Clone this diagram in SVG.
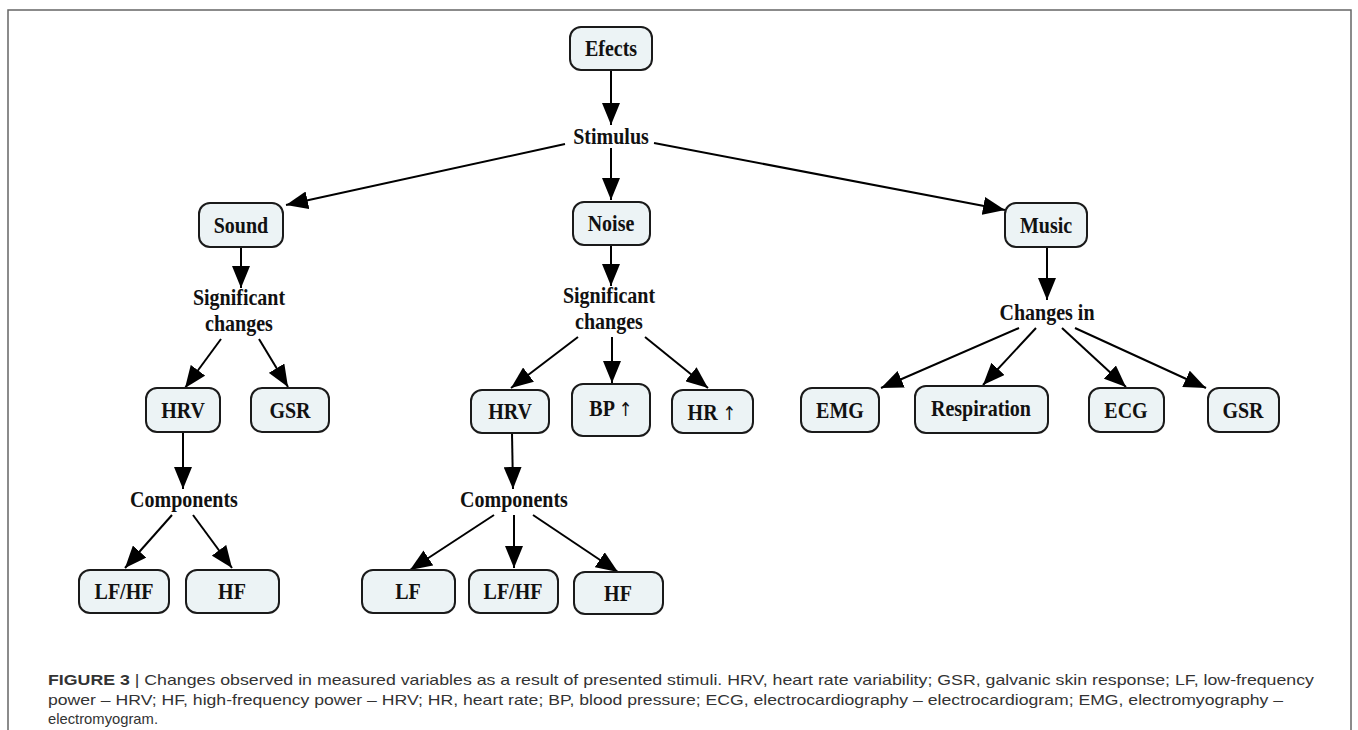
<svg xmlns="http://www.w3.org/2000/svg" width="1358" height="730" viewBox="0 0 1358 730">
<style>
.box{fill:#ecf3f5;stroke:#1a1a1a;stroke-width:2}
.t{font-family:"Liberation Serif","Times New Roman",serif;font-weight:bold;font-size:23px;fill:#111;text-anchor:middle}
.c{stroke:#000;stroke-width:2;fill:none;marker-end:url(#ah)}
.cap{font-family:"Liberation Sans",Arial,sans-serif;font-size:15px;fill:#333}
.ar{font-family:"DejaVu Sans",sans-serif;font-weight:normal;font-size:19px}
</style>
<defs>
<marker id="ah" markerUnits="userSpaceOnUse" markerWidth="22" markerHeight="18" refX="22" refY="9" orient="auto">
<path d="M0,0 L22,9 L0,18 z" fill="#000"/>
</marker>
</defs>
<rect width="1358" height="730" fill="#fff"/>
<path d="M8,730 V10 H1351 V730" fill="none" stroke="#666" stroke-width="1.5"/>

<g id="connectors">
<line class="c" x1="611" y1="70" x2="611" y2="125"/>
<line class="c" x1="611" y1="148" x2="611" y2="200"/>
<line class="c" x1="565" y1="144" x2="286" y2="205"/>
<line class="c" x1="654" y1="143" x2="1005" y2="210"/>
<line class="c" x1="241" y1="247" x2="241" y2="288"/>
<line class="c" x1="611" y1="245" x2="611" y2="286"/>
<line class="c" x1="1047" y1="247" x2="1047" y2="300"/>
<line class="c" x1="221" y1="339" x2="185" y2="388"/>
<line class="c" x1="259" y1="339" x2="288" y2="387"/>
<line class="c" x1="183" y1="432" x2="183" y2="489"/>
<line class="c" x1="172" y1="515" x2="125" y2="568"/>
<line class="c" x1="193" y1="515" x2="232" y2="568"/>
<line class="c" x1="578" y1="337" x2="511" y2="388"/>
<line class="c" x1="612" y1="337" x2="612" y2="383"/>
<line class="c" x1="645" y1="337" x2="708" y2="388"/>
<line class="c" x1="512" y1="433" x2="513" y2="489"/>
<line class="c" x1="494" y1="515" x2="410" y2="570"/>
<line class="c" x1="514" y1="515" x2="514" y2="568"/>
<line class="c" x1="533" y1="515" x2="618" y2="572"/>
<line class="c" x1="1019" y1="328" x2="881" y2="388"/>
<line class="c" x1="1036" y1="328" x2="983" y2="385"/>
<line class="c" x1="1062" y1="328" x2="1126" y2="387"/>
<line class="c" x1="1075" y1="328" x2="1206" y2="388"/>
</g>

<g id="efects"><rect class="box" x="570" y="27" width="82" height="43" rx="11"/><text class="t" transform="translate(611,56) scale(0.87,1)">Efects</text></g>
<g id="stimulus"><text class="t" transform="translate(611,144) scale(0.87,1)">Stimulus</text></g>
<g id="sound"><rect class="box" x="199" y="203" width="84" height="44" rx="11"/><text class="t" transform="translate(241,233) scale(0.87,1)">Sound</text></g>
<g id="noise"><rect class="box" x="573" y="202" width="77" height="43" rx="11"/><text class="t" transform="translate(611,231) scale(0.87,1)">Noise</text></g>
<g id="music"><rect class="box" x="1005" y="203" width="82" height="44" rx="11"/><text class="t" transform="translate(1046,233) scale(0.87,1)">Music</text></g>
<g id="sig1"><text class="t" transform="translate(239,305) scale(0.87,1)">Significant</text><text class="t" transform="translate(239,331) scale(0.87,1)">changes</text></g>
<g id="sig2"><text class="t" transform="translate(609,303) scale(0.87,1)">Significant</text><text class="t" transform="translate(609,329) scale(0.87,1)">changes</text></g>
<g id="changesin"><text class="t" transform="translate(1047,320) scale(0.87,1)">Changes in</text></g>
<g id="hrv1"><rect class="box" x="146" y="388" width="74" height="44" rx="11"/><text class="t" transform="translate(183,418) scale(0.87,1)">HRV</text></g>
<g id="gsr1"><rect class="box" x="251" y="388" width="78" height="44" rx="11"/><text class="t" transform="translate(290,418) scale(0.87,1)">GSR</text></g>
<g id="comp1"><text class="t" transform="translate(184,507) scale(0.87,1)">Components</text></g>
<g id="lfhf1"><rect class="box" x="79" y="570" width="90" height="43" rx="11"/><text class="t" transform="translate(124,599) scale(0.87,1)">LF/HF</text></g>
<g id="hf1"><rect class="box" x="186" y="570" width="93" height="43" rx="11"/><text class="t" transform="translate(232,599) scale(0.87,1)">HF</text></g>
<g id="hrv2"><rect class="box" x="471" y="390" width="78" height="43" rx="11"/><text class="t" transform="translate(510,419) scale(0.87,1)">HRV</text></g>
<g id="bp"><rect class="box" x="572" y="384" width="78" height="52" rx="11"/><text class="t" transform="translate(611,416) scale(0.87,1)">BP <tspan class="ar">↑</tspan></text></g>
<g id="hr"><rect class="box" x="672" y="390" width="81" height="43" rx="11"/><text class="t" transform="translate(712,420) scale(0.87,1)">HR <tspan class="ar">↑</tspan></text></g>
<g id="comp2"><text class="t" transform="translate(514,507) scale(0.87,1)">Components</text></g>
<g id="lf2"><rect class="box" x="362" y="570" width="93" height="43" rx="11"/><text class="t" transform="translate(408,599) scale(0.87,1)">LF</text></g>
<g id="lfhf2"><rect class="box" x="469" y="570" width="89" height="43" rx="11"/><text class="t" transform="translate(513,599) scale(0.87,1)">LF/HF</text></g>
<g id="hf2"><rect class="box" x="574" y="572" width="89" height="42" rx="11"/><text class="t" transform="translate(618,601) scale(0.87,1)">HF</text></g>
<g id="emg"><rect class="box" x="801" y="388" width="78" height="44" rx="11"/><text class="t" transform="translate(840,418) scale(0.87,1)">EMG</text></g>
<g id="resp"><rect class="box" x="915" y="386" width="133" height="47" rx="11"/><text class="t" transform="translate(981,416) scale(0.87,1)">Respiration</text></g>
<g id="ecg"><rect class="box" x="1089" y="388" width="75" height="44" rx="11"/><text class="t" transform="translate(1126,418) scale(0.87,1)">ECG</text></g>
<g id="gsr2"><rect class="box" x="1208" y="388" width="71" height="44" rx="11"/><text class="t" transform="translate(1243,418) scale(0.87,1)">GSR</text></g>

<g id="caption">
<text class="cap" x="48" y="685" textLength="1266" lengthAdjust="spacingAndGlyphs"><tspan font-weight="bold">FIGURE 3</tspan> | Changes observed in measured variables as a result of presented stimuli. HRV, heart rate variability; GSR, galvanic skin response; LF, low-frequency</text>
<text class="cap" x="48" y="705" textLength="1235" lengthAdjust="spacingAndGlyphs">power – HRV; HF, high-frequency power – HRV; HR, heart rate; BP, blood pressure; ECG, electrocardiography – electrocardiogram; EMG, electromyography –</text>
<text class="cap" x="48" y="724" textLength="110" lengthAdjust="spacingAndGlyphs">electromyogram.</text>
</g>
</svg>
